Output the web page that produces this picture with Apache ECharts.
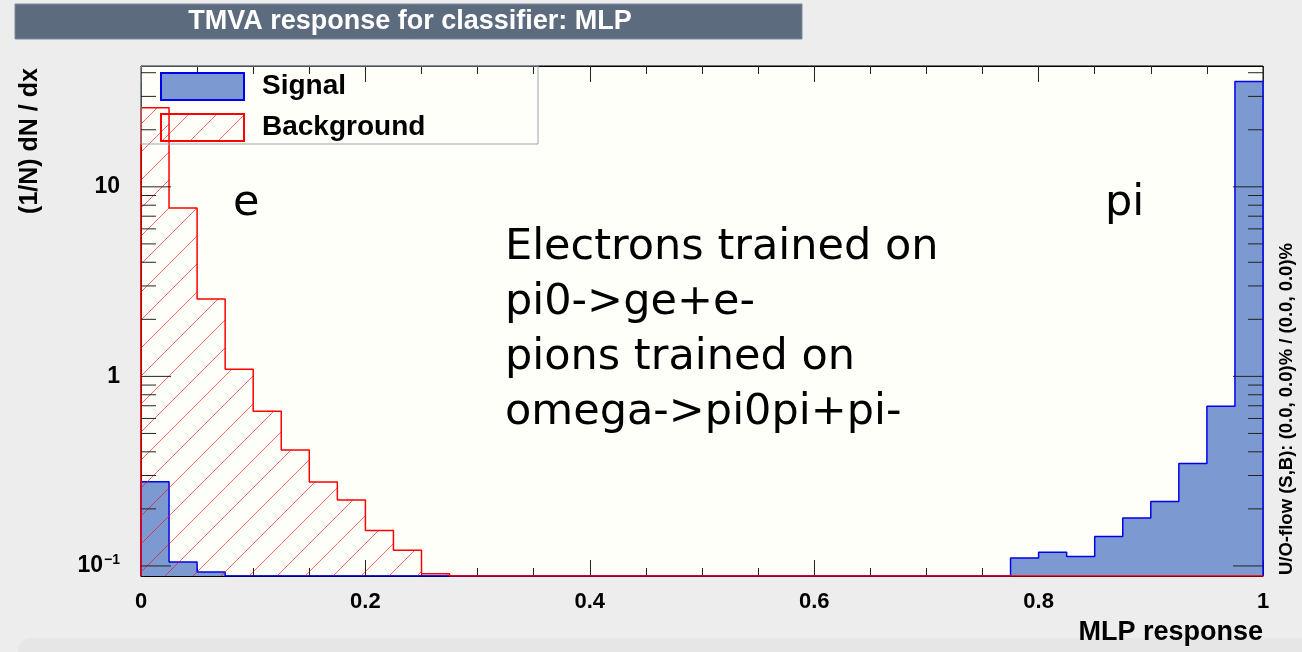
<!DOCTYPE html>
<html>
<head>
<meta charset="utf-8">
<title>TMVA response for classifier: MLP</title>
<script src="https://cdn.jsdelivr.net/npm/echarts@6.0.0/dist/echarts.min.js"></script>
<style>
  html, body { margin: 0; padding: 0; background: #ededed; }
  #chart { width: 1302px; height: 652px; }
</style>
</head>
<body>
<div id="chart"></div>
<script>
// 40 bins of width 0.025 over the MLP response [0, 1]
const binWidth = 0.025
const binEdges = Array.from({ length: 40 }, (_, i) => +(i * binWidth).toFixed(3))

// (1/N) dN/dx, 0 = empty bin
const signalValues = [
  0.278, 0.105, 0.093, 0, 0, 0, 0, 0, 0, 0,
  0, 0, 0, 0, 0, 0, 0, 0, 0, 0,
  0, 0, 0, 0, 0, 0, 0, 0, 0, 0,
  0, 0.110, 0.118, 0.112, 0.143, 0.179, 0.219, 0.347, 0.696, 36.0
]
const backgroundValues = [
  26.1, 7.73, 2.56, 1.09, 0.654, 0.409, 0.277, 0.223, 0.154, 0.121,
  0.091, 0, 0, 0, 0, 0, 0, 0, 0, 0,
  0, 0, 0, 0, 0, 0, 0, 0, 0, 0,
  0, 0, 0, 0, 0, 0, 0, 0, 0, 0
]

const yMajorTicks = [0.1, 1, 10]
const yMinorTicks = [0.2, 0.3, 0.4, 0.5, 0.6, 0.7, 0.8, 0.9, 2, 3, 4, 5, 6, 7, 8, 9, 20, 30, 40]
const yMin = 0.0885
const yMax = 43.4

const noteLines = ['Electrons trained on', 'pi0->ge+e-', 'pions trained on', 'omega->pi0pi+pi-']

// step outline points, empty bins sit on the lower frame
function histPoints (vals) {
  const pts = [[0, yMin]]
  vals.forEach((v, i) => pts.push([binEdges[i], Math.max(v, yMin)]))
  pts.push([1, Math.max(vals[vals.length - 1], yMin)])
  pts.push([1, yMin])
  return pts
}

const hatchStep = 28
const hatchColor = 'rgba(255,0,0,0.6)'

// small tile for the legend swatch
function hatchURL () {
  const c = document.createElement('canvas')
  c.width = hatchStep; c.height = hatchStep
  const ctx = c.getContext('2d')
  ctx.strokeStyle = '#ff6a6a'
  ctx.lineWidth = 1
  ctx.beginPath()
  ctx.moveTo(-1, hatchStep + 1); ctx.lineTo(hatchStep + 1, -1)
  ctx.moveTo(-1, 1); ctx.lineTo(1, -1)
  ctx.moveTo(hatchStep - 1, hatchStep + 1); ctx.lineTo(hatchStep + 1, hatchStep - 1)
  ctx.stroke()
  return c.toDataURL()
}
const hatchSrc = hatchURL()

const boldFont = 'Liberation Sans, Arial, Helvetica, sans-serif'
const noteFont = '43px DejaVu Sans, sans-serif'
const signalFill = '#7d99d1'
const signalLine = '#0000ee'
const bgLine = '#ff0000'

const tickData = yMajorTicks.map(v => [0, v, 1]).concat(yMinorTicks.map(v => [0, v, 0]))
const bgBins = binEdges.map((x, i) => [x, backgroundValues[i]])

const myChart = echarts.init(document.getElementById('chart'))
myChart.setOption({
  backgroundColor: '#ededed',
  animation: false,
  grid: {
    left: 141, right: 39, top: 66, bottom: 76,
    show: true, backgroundColor: '#fffffa', borderColor: '#000', borderWidth: 1
  },
  legend: {
    orient: 'vertical',
    left: 160, top: 72, padding: 0,
    itemWidth: 83, itemHeight: 27, itemGap: 12,
    icon: 'rect',
    textStyle: { fontFamily: boldFont, fontWeight: 'bold', fontSize: 28, color: '#000', padding: [0, 0, 0, 13] },
    data: [
      { name: 'Signal', itemStyle: { color: signalFill, borderColor: signalLine, borderWidth: 2 } },
      { name: 'Background', itemStyle: { color: { image: hatchSrc, repeat: 'repeat' }, borderColor: bgLine, borderWidth: 2 } }
    ]
  },
  xAxis: [{
    type: 'value', min: 0, max: 1, interval: 0.2,
    axisLine: { lineStyle: { color: '#000', width: 1 } },
    axisTick: { inside: true, length: 16, lineStyle: { color: '#222' } },
    minorTick: { show: true, splitNumber: 4, length: 8, lineStyle: { color: '#222' } },
    splitLine: { show: false },
    axisLabel: { margin: 15, fontFamily: boldFont, fontWeight: 'bold', fontSize: 22, color: '#000' }
  }, {
    type: 'value', position: 'top', min: 0, max: 1, interval: 0.2,
    axisLine: { lineStyle: { color: '#000', width: 1 } },
    axisTick: { inside: true, length: 16, lineStyle: { color: '#222' } },
    minorTick: { show: true, splitNumber: 4, length: 8, lineStyle: { color: '#222' } },
    splitLine: { show: false },
    axisLabel: { show: false }
  }],
  yAxis: {
    type: 'log', logBase: 10, min: yMin, max: yMax,
    axisLine: { show: true, lineStyle: { color: '#000', width: 1 } },
    axisTick: { show: false },
    splitLine: { show: false },
    axisLabel: {
      margin: 21, showMinLabel: false, showMaxLabel: false,
      fontFamily: boldFont, fontWeight: 'bold', fontSize: 23, color: '#000',
      formatter: v => {
        if (Math.abs(v - 0.1) < 1e-9) return '{b|10}{s|−1}'
        if (Math.abs(v - 1) < 1e-9) return '{b|1}'
        if (Math.abs(v - 10) < 1e-9) return '{b|10}'
        return ''
      },
      rich: {
        b: { fontFamily: boldFont, fontWeight: 'bold', fontSize: 23, color: '#000' },
        s: { fontFamily: boldFont, fontWeight: 'bold', fontSize: 14, color: '#000', padding: [0, 0, 12, 1] }
      }
    }
  },
  series: [
    {
      name: 'Signal', type: 'line', step: 'end', symbol: 'none', clip: true,
      data: histPoints(signalValues),
      lineStyle: { color: signalLine, width: 1.5 },
      itemStyle: { color: signalFill },
      areaStyle: { color: signalFill, opacity: 1, origin: 'start' },
      z: 2
    },
    {
      // background hatching, one group of 45 degree strokes per bin
      type: 'custom', silent: true, z: 3,
      data: bgBins,
      renderItem: (params, api) => {
        const v = api.value(1)
        if (v <= yMin) return null
        const x0 = api.value(0)
        const pTop = api.coord([x0, v])
        const pBot = api.coord([x0 + binWidth, yMin])
        const L = pTop[0], R = pBot[0], T = pTop[1], B = pBot[1]
        const children = []
        const off = 13
        let c = Math.ceil((L + T - off) / hatchStep) * hatchStep + off
        for (; c <= R + B; c += hatchStep) {
          const xa = Math.max(L, c - B)
          const xb = Math.min(R, c - T)
          if (xb > xa) {
            children.push({
              type: 'line',
              shape: { x1: xa, y1: c - xa, x2: xb, y2: c - xb },
              style: { stroke: hatchColor, lineWidth: 1 }
            })
          }
        }
        return { type: 'group', children }
      }
    },
    {
      name: 'Background', type: 'line', step: 'end', symbol: 'none', clip: true,
      data: histPoints(backgroundValues),
      lineStyle: { color: bgLine, width: 1.5 },
      itemStyle: { color: bgLine },
      z: 4
    },
    {
      // log axis ticks (ROOT style, both sides, inside the frame)
      type: 'custom', silent: true, z: 5,
      data: tickData,
      renderItem: (params, api) => {
        const v = api.value(1)
        const len = api.value(2) ? 30 : 15
        const pL = api.coord([0, v])
        const pR = api.coord([1, v])
        const st = { stroke: '#222', lineWidth: 1 }
        return {
          type: 'group',
          children: [
            { type: 'line', shape: { x1: pL[0], y1: pL[1], x2: pL[0] + len, y2: pL[1] }, style: st },
            { type: 'line', shape: { x1: pR[0] - len, y1: pR[1], x2: pR[0], y2: pR[1] }, style: st }
          ]
        }
      }
    }
  ],
  graphic: [
    { type: 'rect', z: -1, shape: { x: 18, y: 638, width: 1300, height: 40, r: 12 }, style: { fill: '#e6e6e6' } },
    // title box
    { type: 'rect', shape: { x: 15, y: 4, width: 787, height: 35 }, style: { fill: '#5c6b7d', stroke: '#7d8b9d', lineWidth: 1 } },
    { type: 'text', x: 410, y: 22, style: { text: 'TMVA response for classifier: MLP', fill: '#fff', font: 'bold 27px ' + boldFont, align: 'center', verticalAlign: 'middle' } },
    // legend frame
    { type: 'rect', z: 5, shape: { x: 141, y: 66, width: 397, height: 78 }, style: { fill: 'none', stroke: '#9aa5b3', lineWidth: 1 } },
    // axis titles
    { type: 'text', x: 30, y: 141, rotation: Math.PI / 2, style: { text: '(1/N) dN / dx', fill: '#000', font: 'bold 25px ' + boldFont, align: 'center', verticalAlign: 'middle' } },
    { type: 'text', x: 1263, y: 633, style: { text: 'MLP response', fill: '#000', font: 'bold 27px ' + boldFont, align: 'right', verticalAlign: 'middle' } },
    { type: 'text', x: 1287, y: 409, rotation: Math.PI / 2, style: { text: 'U/O-flow (S,B): (0.0, 0.0)% / (0.0, 0.0)%', fill: '#000', font: 'bold 18.5px ' + boldFont, align: 'center', verticalAlign: 'middle' } },
    // annotations
    { type: 'text', z: 6, x: 233, y: 204, style: { text: 'e', fill: '#000', font: noteFont, verticalAlign: 'middle' } },
    { type: 'text', z: 6, x: 1105, y: 204, style: { text: 'pi', fill: '#000', font: noteFont, verticalAlign: 'middle' } },
    { type: 'text', z: 6, x: 505, y: 220, style: { text: noteLines.join('\n'), fill: '#000', font: noteFont, lineHeight: 55, verticalAlign: 'top' } }
  ]
})
</script>
</body>
</html>
